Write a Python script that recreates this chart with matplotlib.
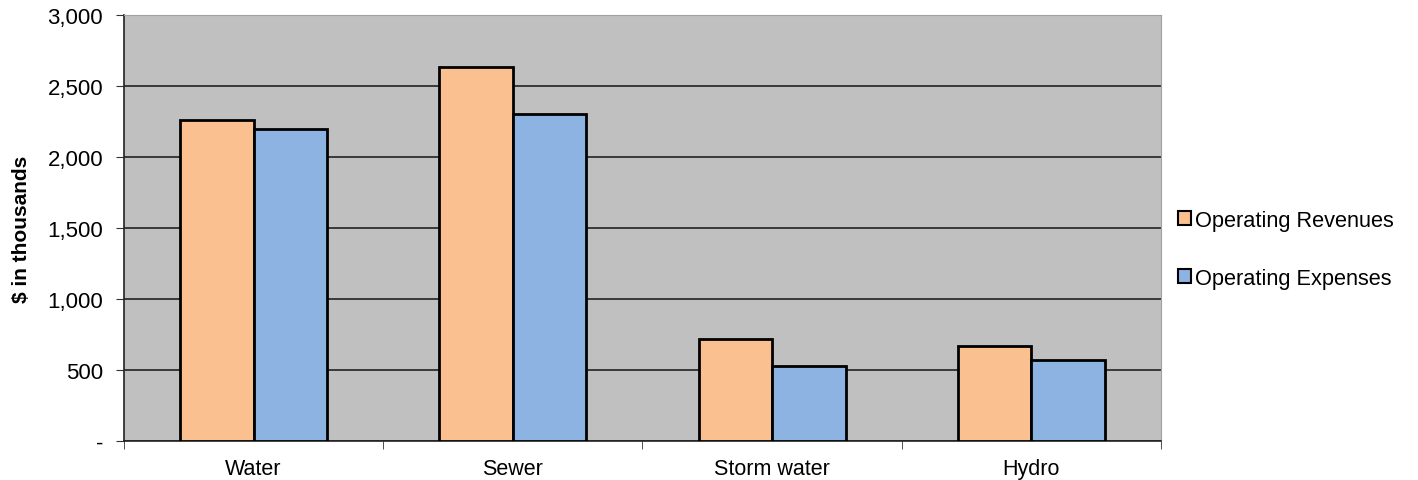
import matplotlib.pyplot as plt
import numpy as np
from matplotlib.ticker import FixedLocator, FuncFormatter

plt.rcParams["font.family"] = ["Liberation Sans", "DejaVu Sans"]

categories = ["Water", "Sewer", "Storm water", "Hydro"]
revenues = [2259, 2635, 719, 672]
expenses = [2194, 2304, 527, 573]
series_names = ["Operating Revenues", "Operating Expenses"]
y_ticks = [0, 500, 1000, 1500, 2000, 2500, 3000]

rev_color = "#fac090"
exp_color = "#8db3e2"

fig = plt.figure(figsize=(14.18, 4.81), dpi=100)
ax = fig.add_axes([0.0874, 0.0811, 0.7314, 0.8856])
ax.set_facecolor("#c0c0c0")

x = np.arange(len(categories))
w = 0.284
ax.bar(x - w / 2, revenues, w, color=rev_color, edgecolor="black",
       linewidth=2, label=series_names[0], zorder=3)
ax.bar(x + w / 2, expenses, w, color=exp_color, edgecolor="black",
       linewidth=2, label=series_names[1], zorder=3)

ax.set_xlim(-0.5, len(categories) - 0.5)
ax.set_ylim(0, 3000)

ax.yaxis.set_major_locator(FixedLocator(y_ticks))
ax.yaxis.set_major_formatter(FuncFormatter(lambda v, p: "-" if v == 0 else f"{v:,.0f}"))
ax.grid(axis="y", color="#222222", linewidth=1.2, zorder=1)

ax.set_xticks(x)
ax.set_xticklabels(categories)
ax.tick_params(axis="x", which="major", length=0, labelsize=15.5, pad=12)
ax.set_xticks(np.arange(-0.5, len(categories)), minor=True)
ax.tick_params(axis="x", which="minor", length=6, color="#333333", direction="out")
ax.tick_params(axis="y", length=6, labelsize=16, color="#333333", pad=9)

for side in ["top", "right"]:
    ax.spines[side].set_color("#a0a0a0")
    ax.spines[side].set_linewidth(0.8)
ax.spines["left"].set_color("#222222")
ax.spines["bottom"].set_color("#222222")
ax.spines["left"].set_linewidth(1.2)
ax.spines["bottom"].set_linewidth(1.2)

ax.set_ylabel("$ in thousands", fontsize=15, fontweight="bold", labelpad=12)

leg = ax.legend(loc="center left", bbox_to_anchor=(0.997, 0.45), frameon=False,
                fontsize=15.7, handlelength=0.6, handleheight=0.6,
                handletextpad=0.2, labelspacing=1.7)
for h in leg.legend_handles:
    h.set_linewidth(1.5)

fig.savefig("out.png", dpi=100)
